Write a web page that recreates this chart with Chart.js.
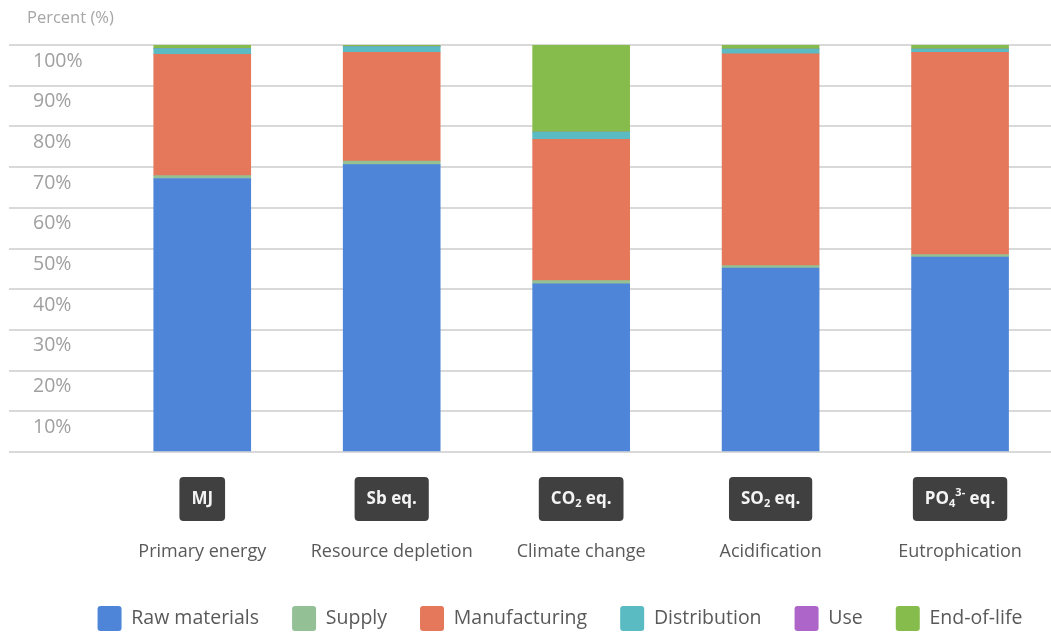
<!DOCTYPE html>
<html>
<head>
<meta charset="utf-8">
<script src="https://cdn.jsdelivr.net/npm/chart.js@4.4.1/dist/chart.umd.min.js"></script>
<style>
    body { margin: 0; background: #ffffff; }
    #wrap { width: 1051px; height: 633px; position: relative; }
</style>
</head>
<body>
<div id="wrap"><canvas id="lcaChart"></canvas></div>
<script>
// impact categories and their units
const categories = ['Primary energy', 'Resource depletion', 'Climate change', 'Acidification', 'Eutrophication'];
const units = [
    [['MJ']],
    [['Sb eq.']],
    [['CO'], ['2', 'sub'], [' eq.']],
    [['SO'], ['2', 'sub'], [' eq.']],
    [['PO'], ['4', 'sub'], ['3-', 'sup'], [' eq.']]
];
const axisTitle = 'Percent (%)';

// share of each life cycle stage (%)
const rawMaterials  = [67.2, 70.6, 41.3, 45.2, 47.9];
const supply        = [0.7, 0.9, 0.8, 0.6, 0.6];
const manufacturing = [29.8, 26.7, 34.7, 52.0, 49.7];
const distribution  = [1.4, 1.4, 1.8, 1.2, 0.8];
const use           = [0, 0, 0, 0, 0];
const endOfLife     = [0.9, 0.4, 21.4, 1.0, 1.0];

const yTicks = [0, 10, 20, 30, 40, 50, 60, 70, 80, 90, 100];

function points(values) {
    return values.map((v, i) => ({ x: i, y: v }));
}

const series = [
    { label: 'Raw materials', data: rawMaterials, color: '#4e85d8' },
    { label: 'Supply', data: supply, color: '#93c094' },
    { label: 'Manufacturing', data: manufacturing, color: '#e5785a' },
    { label: 'Distribution', data: distribution, color: '#5bbbc3' },
    { label: 'Use', data: use, color: '#ae65c9' },
    { label: 'End-of-life', data: endOfLife, color: '#86bc4b' }
];

const FONT = '"Open Sans", "DejaVu Sans", sans-serif';

// dark unit badges above the category names + the little axis title
const unitBadges = {
    id: 'unitBadges',
    afterLayout(chart) {
        // legend sits a bit right of centre in the original
        chart.legend.left += 30;
        chart.legend.right += 30;
    },
    afterDraw(chart) {
        const ctx = chart.ctx;
        const xs = chart.scales.x;
        ctx.save();

        ctx.font = '16.5px ' + FONT;
        ctx.fillStyle = '#a6a6a6';
        ctx.textBaseline = 'middle';
        ctx.textAlign = 'left';
        ctx.fillText(axisTitle, 27, 18);

        const mainFont = 'bold 17px ' + FONT;
        const smallFont = 'bold 11px ' + FONT;
        const top = xs.top + 25;
        const h = 44;
        const mid = top + h / 2;

        units.forEach((parts, i) => {
            let w = 0;
            parts.forEach(p => {
                ctx.font = p[1] ? smallFont : mainFont;
                w += ctx.measureText(p[0]).width;
            });
            const bw = w + 24;
            const cx = xs.getPixelForValue(i);
            ctx.fillStyle = '#404040';
            ctx.beginPath();
            ctx.roundRect(cx - bw / 2, top, bw, h, 4);
            ctx.fill();

            ctx.fillStyle = '#f4f4f4';
            let x = cx - w / 2;
            parts.forEach(p => {
                ctx.font = p[1] ? smallFont : mainFont;
                let dy = 0;
                if (p[1] === 'sub') dy = 5;
                if (p[1] === 'sup') dy = -6;
                ctx.fillText(p[0], x, mid + dy);
                x += ctx.measureText(p[0]).width;
            });
        });
        ctx.restore();
    }
};

document.addEventListener('DOMContentLoaded', function() {
    const ctx = document.getElementById('lcaChart').getContext('2d');

    new Chart(ctx, {
        type: 'bar',
        data: {
            datasets: series.map(s => ({
                label: s.label,
                data: points(s.data),
                backgroundColor: s.color,
                borderWidth: 0,
                barThickness: 97
            }))
        },
        options: {
            responsive: true,
            maintainAspectRatio: false,
            animation: false,
            layout: {
                padding: { left: 9, right: 0, top: 45, bottom: -8 }
            },
            scales: {
                x: {
                    type: 'linear',
                    stacked: true,
                    offset: false,
                    min: -1.02,
                    max: 4.48,
                    grid: { display: false, drawTicks: false },
                    border: { display: false },
                    afterBuildTicks: axis => {
                        axis.ticks = categories.map((c, i) => ({ value: i }));
                    },
                    afterFit: axis => {
                        axis.height = 121;
                        axis.paddingLeft = 0;
                        axis.paddingRight = 0;
                    },
                    ticks: {
                        autoSkip: false,
                        maxRotation: 0,
                        padding: 89,
                        color: '#595959',
                        font: { family: FONT, size: 18 },
                        callback: value => categories[value]
                    }
                },
                y: {
                    stacked: true,
                    min: 0,
                    max: 100,
                    grid: { color: '#d9d9d9', lineWidth: 2, drawTicks: false },
                    border: { display: false },
                    afterBuildTicks: axis => {
                        axis.ticks = yTicks.map(v => ({ value: v }));
                    },
                    afterFit: axis => { axis.width = 0; },
                    ticks: {
                        mirror: true,
                        padding: 24,
                        labelOffset: 16,
                        color: '#a0a0a0',
                        font: { family: FONT, size: 19.5 },
                        callback: value => value === 0 ? '' : value + '%'
                    }
                }
            },
            plugins: {
                legend: {
                    position: 'bottom',
                    labels: {
                        boxWidth: 24,
                        boxHeight: 25,
                        padding: 33,
                        useBorderRadius: true,
                        borderRadius: 3,
                        color: '#595959',
                        font: { family: FONT, size: 19.5 }
                    }
                },
                tooltip: { enabled: false }
            }
        },
        plugins: [unitBadges]
    });
});
</script>
</body>
</html>
